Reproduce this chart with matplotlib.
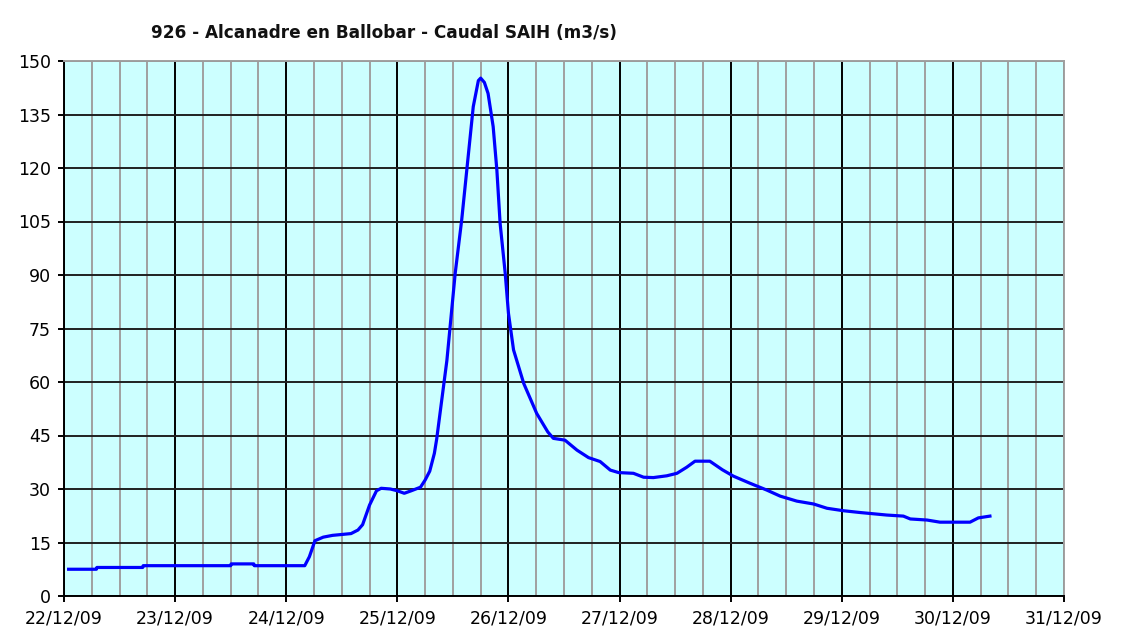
import pandas as pd
import matplotlib
matplotlib.use("Agg")
import matplotlib.pyplot as plt
import matplotlib.dates as mdates

# hours since 22/12/09 00:00 and flow (m3/s)
hours = [1, 7, 7.1, 17, 17.1, 36, 36.1, 41, 41.1, 52, 53, 54.2, 56, 58, 62, 63.5,
         64.5, 66, 67.5, 68.5, 70.5, 72, 73.5, 75, 77, 78, 79, 80, 80.5, 81.5,
         82.7, 83.4, 84.5, 85.9, 87.0, 88.4, 89.5, 90, 90.8, 91.6, 92.7, 93.5,
         94.2, 95.3, 96.0, 97.1, 99.3, 102.1, 104.5, 105.7, 108.2, 110.8, 113.3,
         115.8, 118, 119.8, 123, 125.2, 127.3, 130.2, 132.4, 134.5, 136.3, 139.5,
         142.2, 144.6, 148.2, 151.8, 154.7, 158.3, 161.9, 164.8, 168.4, 172,
         177.7, 181.3, 182.8, 186.4, 189.2, 195.7, 197.5, 200]
caudal = [7.5, 7.5, 8.0, 8.0, 8.5, 8.5, 9.0, 9.0, 8.5, 8.5, 11, 15.5, 16.5, 17.0,
          17.5, 18.5, 20, 25.5, 29.5, 30.2, 30.0, 29.5, 28.8, 29.5, 30.5, 32.5,
          35, 40, 44, 54, 66, 75.5, 90.5, 105.4, 119.4, 137.2, 144.5, 145.2, 144,
          140.9, 131.6, 119.4, 104.5, 90.5, 79.3, 69.0, 59.6, 51.2, 46, 44.2,
          43.7, 40.9, 38.8, 37.7, 35.3, 34.6, 34.4, 33.3, 33.2, 33.7, 34.4, 36.1,
          37.8, 37.8, 35.4, 33.6, 31.6, 29.7, 28.0, 26.6, 25.8, 24.6, 23.9, 23.4,
          22.7, 22.4, 21.6, 21.3, 20.7, 20.7, 21.9, 22.4]

start = pd.Timestamp("2009-12-22")
end = pd.Timestamp("2009-12-31")
times = start + pd.to_timedelta(hours, unit="h")

fig = plt.figure(figsize=(11.34, 6.28), dpi=100)
ax = fig.add_axes([64 / 1134, 1 - 596 / 628, 1000 / 1134, 535 / 628])
ax.set_facecolor("#CCFFFF")

ax.plot(times, caudal, color="#0000FF", lw=2.3, solid_joinstyle="round", zorder=3)

ax.set_xlim(start, end)
ax.set_ylim(0, 150)
ax.set_yticks(range(0, 151, 15))
ax.xaxis.set_major_locator(mdates.DayLocator())
ax.xaxis.set_major_formatter(mdates.DateFormatter("%d/%m/%y"))
ax.xaxis.set_minor_locator(mdates.HourLocator(byhour=[6, 12, 18]))

ax.set_axisbelow(True)
ax.grid(which="minor", axis="x", color="#A0A0A0", lw=1.4)
ax.grid(which="major", axis="x", color="black", lw=1.4)
ax.grid(which="major", axis="y", color="#202020", lw=1.4)

for s in ["top", "right"]:
    ax.spines[s].set_color("#A0A0A0")
    ax.spines[s].set_linewidth(1.4)
for s in ["left", "bottom"]:
    ax.spines[s].set_color("black")
    ax.spines[s].set_linewidth(1.4)

ax.tick_params(axis="both", which="major", direction="out", length=4.5, width=1.4,
               labelsize=12.5, pad=5)
ax.tick_params(axis="x", which="minor", length=0)
ax.tick_params(axis="x", which="major", pad=5)

fig.text(151 / 1134, 1 - 33 / 628, "926 - Alcanadre en Ballobar - Caudal SAIH (m3/s)",
         ha="left", va="center", fontsize=12.2, fontweight="bold", color="#111111")

fig.savefig("out.png", dpi=100, facecolor="white")
